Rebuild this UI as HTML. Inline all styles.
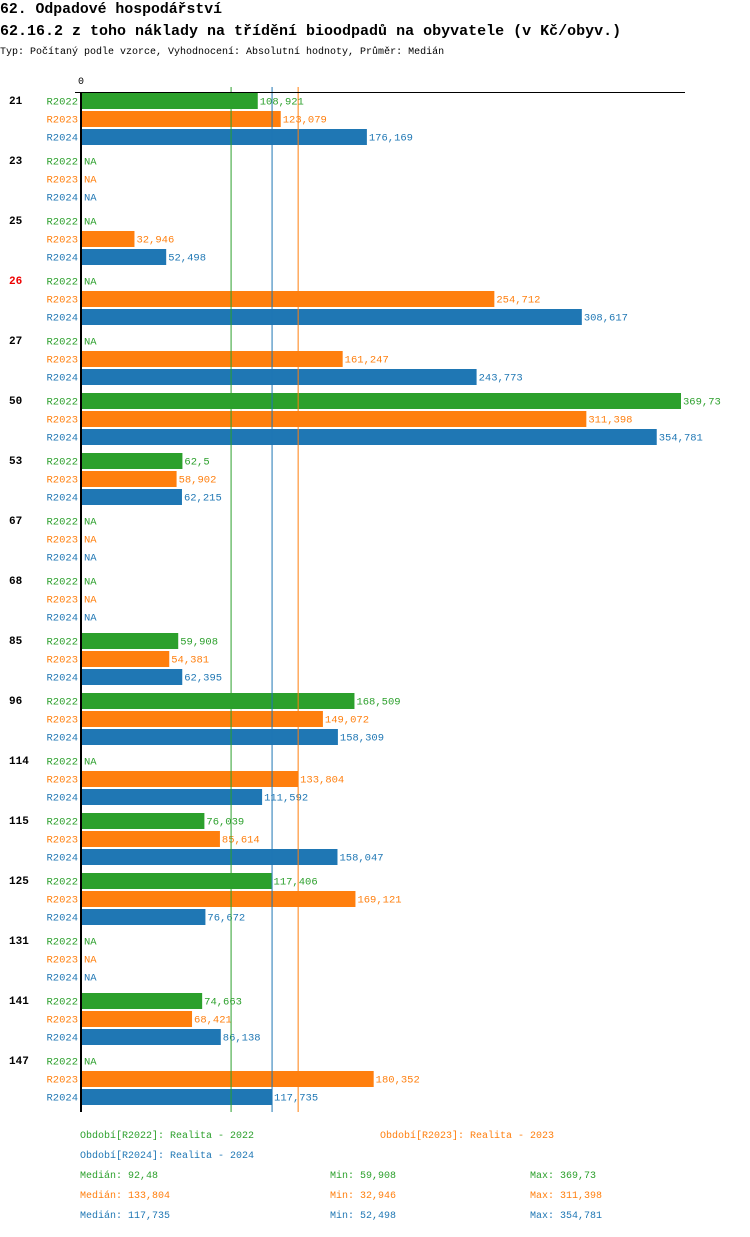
<!DOCTYPE html>
<html><head><meta charset="utf-8"><style>
body{margin:0;background:#fff;width:750px;height:1232px;overflow:hidden;font-family:"Liberation Mono",monospace}
svg text{font-family:"Liberation Mono",monospace}
</style></head><body>
<svg id="c" width="750" height="1232" xmlns="http://www.w3.org/2000/svg">
<text x="0" y="13" font-size="14.8" font-weight="bold">62. Odpadové hospodářství</text>
<text x="0" y="35" font-size="15" font-weight="bold">62.16.2 z toho náklady na třídění bioodpadů na obyvatele (v Kč/obyv.)</text>
<text x="0" y="54" font-size="10">Typ: Počítaný podle vzorce, Vyhodnocení: Absolutní hodnoty, Průměr: Medián</text>
</svg>
<script>
const categories=["21","23","25","26","27","50","53","67","68","85","96","114","115","125","131","141","147"];
const r2022=[108.921,null,null,null,null,369.73,62.5,null,null,59.908,168.509,null,76.039,117.406,null,74.663,null];
const r2023=[123.079,null,32.946,254.712,161.247,311.398,58.902,null,null,54.381,149.072,133.804,85.614,169.121,null,68.421,180.352];
const r2024=[176.169,null,52.498,308.617,243.773,354.781,62.215,null,null,62.395,158.309,111.592,158.047,76.672,null,86.138,117.735];
const seriesNames=["R2022","R2023","R2024"];
const medians=[92.48,133.804,117.735];
const mins=["59,908","32,946","52,498"];
const maxs=["369,73","311,398","354,781"];
const medianLabels=["92,48","133,804","117,735"];
const highlighted=["26"];
const colors=["#2ca02c","#ff7f0e","#1f77b4"];
const svg=document.getElementById('c');const NS="http://www.w3.org/2000/svg";
const x0=81,scale=600/369.73;const xs=v=>x0+v*scale;
function mk(t,a,txt){const e=document.createElementNS(NS,t);for(const k in a)e.setAttribute(k,a[k]);if(txt!=null)e.textContent=txt;svg.appendChild(e);return e;}
const fmt=v=>String(v).replace('.',',');
const all=[r2022,r2023,r2024];
categories.forEach((c,i)=>{
 const gy=93+i*60;
 const g=mk('text',{x:9,y:gy+11,'font-size':11,'font-weight':'bold',fill:highlighted.includes(c)?'#e00':'#000'},c);
 
 
 all.forEach((s,j)=>{
  const y=gy+j*18;
  const l=mk('text',{x:78,y:y+11.5,'font-size':10.5,fill:colors[j],'text-anchor':'end'},seriesNames[j]);
  
  
  const v=s[i];
  if(v==null){const n=mk('text',{x:84,y:y+11.5,'font-size':10.5,fill:colors[j]},'NA');
   
   return;}
  const r=mk('rect',{x:x0,y:y,width:xs(v)-x0,height:16,fill:colors[j]});
  
  
  const t=mk('text',{x:xs(v)+2,y:y+11.5,'font-size':10.5,fill:colors[j]},fmt(v));
  
  
 });
});
medians.forEach((m,j)=>{const l=mk('line',{x1:xs(m),x2:xs(m),y1:87,y2:1112,stroke:colors[j],'stroke-width':1});
 
 });
const ax=mk('line',{x1:75,x2:685,y1:92.5,y2:92.5,stroke:'#000','stroke-width':1});


const ay=mk('line',{x1:81,x2:81,y1:92,y2:1112,stroke:'#000','stroke-width':2});


const z=mk('text',{x:78,y:84,'font-size':10},'0');


const leg=[[80,1138,0,'Období[R2022]: Realita - 2022'],[380,1138,1,'Období[R2023]: Realita - 2023'],[80,1158,2,'Období[R2024]: Realita - 2024']];
leg.forEach(a=>{const t=mk('text',{x:a[0],y:a[1],'font-size':10,fill:colors[a[2]]},a[3]);
 
 });
[0,1,2].forEach(j=>{const y=1178+j*20;
 const a=mk('text',{x:80,y:y,'font-size':10,fill:colors[j]},'Medián: '+medianLabels[j]);
 
 
 const b=mk('text',{x:330,y:y,'font-size':10,fill:colors[j]},'Min: '+mins[j]);
 
 
 const d=mk('text',{x:530,y:y,'font-size':10,fill:colors[j]},'Max: '+maxs[j]);
 
 });
</script>
</body></html>
